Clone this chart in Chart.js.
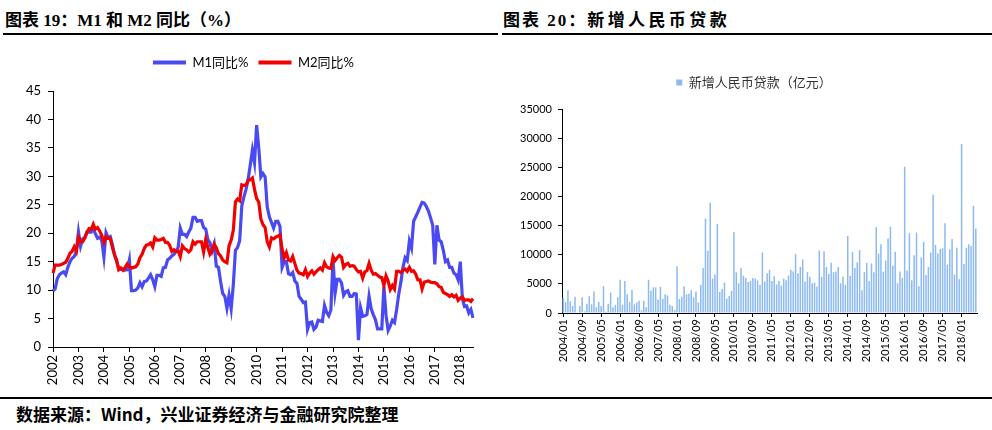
<!DOCTYPE html>
<html><head><meta charset="utf-8">
<script src="https://cdn.jsdelivr.net/npm/chart.js@4/dist/chart.umd.min.js"></script>
<style>
body{margin:0;width:992px;height:430px;background:#fff;position:relative;overflow:hidden;font-family:'Noto Sans CJK SC',sans-serif;color:#000;}
.title{position:absolute;top:6px;font-size:17px;font-weight:700;white-space:nowrap;font-family:'Liberation Serif','Noto Sans CJK SC',serif;}
.rule{position:absolute;height:2px;background:#000;}
canvas{position:absolute;top:38px;}
#c1{left:0;}
#c2{left:500px;}
.src{position:absolute;left:16px;top:401px;font-size:17px;font-weight:700;white-space:nowrap;}
</style></head>
<body>
<div class="title" style="left:5px">图表 19：M1 和 M2 同比（%）</div>
<div class="title" style="left:503px"><span style="letter-spacing:2px">图表 20：</span><span style="letter-spacing:3.4px">新增人民币贷款</span></div>
<div class="rule" style="left:3px;width:495px;top:33px"></div>
<div class="rule" style="left:502px;width:490px;top:33px"></div>
<canvas id="c1" width="496" height="356"></canvas>
<canvas id="c2" width="492" height="356"></canvas>
<div class="rule" style="left:0;width:992px;top:397px"></div>
<div class="src">数据来源：Wind，兴业证券经济与金融研究院整理</div>
<script>
// ---- Chart 1: M1 / M2 YoY (%), monthly 2002/01 - 2018/07
const m1Years = [2002,2003,2004,2005,2006,2007,2008,2009,2010,2011,2012,2013,2014,2015,2016,2017,2018];
const m1 = [
 9.9,10.2,12.0,12.7,13.0,13.2,12.7,14.0,15.0,15.6,15.9,16.8,
 20.2,17.7,19.0,19.2,20.2,20.2,20.2,20.8,19.9,19.1,19.3,18.7,
 15.8,20.1,19.2,19.4,18.0,16.2,15.0,13.7,13.7,13.6,13.5,13.6,
 15.3,9.9,9.9,10.0,10.4,11.3,10.6,11.5,11.6,12.1,12.7,11.8,
 10.6,12.6,12.6,12.4,13.9,14.0,15.3,15.6,16.0,16.3,16.8,17.5,
 20.9,19.8,19.8,19.4,20.2,20.9,22.8,22.8,22.1,22.2,22.2,21.0,
 20.7,18.9,18.3,16.9,18.1,14.2,14.0,11.5,9.4,8.9,6.8,9.1,
 6.7,10.9,17.0,17.5,18.7,24.8,26.4,27.7,29.5,32.0,34.6,32.4,
 39.0,35.0,29.9,30.5,29.9,24.6,22.9,21.9,20.9,22.1,22.1,21.2,
 14.0,15.0,15.0,12.9,12.7,13.1,11.6,11.2,8.9,8.4,7.8,7.9,
 3.1,4.3,4.4,3.1,3.5,4.7,4.6,4.5,7.3,6.1,5.5,6.5,
 15.3,9.5,11.9,11.9,11.3,9.1,9.7,9.9,8.9,8.9,9.4,9.3,
 1.2,6.9,5.4,5.5,5.7,8.9,6.7,5.7,4.8,3.2,3.2,3.2,
 10.6,5.6,2.9,3.7,4.7,4.3,6.6,9.3,11.4,14.0,15.7,15.2,
 18.6,17.4,22.1,22.9,23.7,24.6,25.4,25.3,24.7,23.9,22.7,21.4,
 14.5,21.4,18.8,18.5,17.0,15.0,15.3,14.0,14.0,13.0,12.7,11.8,
 15.0,8.5,7.1,7.2,6.0,6.6,5.1
];
const m2 = [
 13.0,14.4,14.4,14.4,14.5,14.7,14.9,15.6,16.5,16.8,17.6,16.8,
 19.3,18.5,18.5,19.2,20.2,20.8,20.7,21.6,20.7,21.0,20.4,19.6,
 18.4,19.4,19.1,19.1,17.5,16.2,15.3,13.6,13.9,13.5,14.0,14.6,
 14.1,13.9,14.0,14.1,14.6,15.7,16.3,17.3,17.9,18.0,18.3,17.6,
 19.2,18.8,18.8,18.9,19.1,18.4,18.4,17.9,16.8,17.1,16.8,16.9,
 15.9,17.8,17.3,17.1,16.7,17.1,18.5,18.1,18.5,18.5,18.5,16.7,
 18.9,17.5,16.3,16.9,18.1,17.4,16.4,16.0,15.3,15.0,14.8,17.8,
 18.8,20.5,25.5,26.0,25.7,28.5,28.4,28.5,29.3,29.4,29.7,27.7,
 26.1,25.5,22.5,21.5,21.0,18.5,17.6,19.2,19.0,19.3,19.5,19.7,
 17.2,15.7,16.6,15.3,15.1,15.9,14.7,13.5,13.0,12.9,12.7,13.6,
 12.4,13.0,13.4,12.8,13.2,13.6,13.9,13.5,14.8,14.1,13.9,13.8,
 15.9,15.2,15.7,16.1,15.8,14.0,14.5,14.7,14.2,14.3,14.2,13.6,
 13.2,13.3,12.1,13.2,13.4,14.7,13.5,12.8,12.9,12.6,12.3,12.2,
 10.8,12.5,11.6,10.1,10.8,10.2,13.3,13.3,13.1,13.5,13.7,13.3,
 14.0,13.3,13.4,12.8,11.8,11.8,10.2,11.4,11.5,11.6,11.4,11.3,
 11.3,11.1,10.6,10.5,9.6,9.4,9.2,8.9,9.2,8.8,9.1,8.2,
 8.6,8.8,8.2,8.3,8.3,8.0,8.5
];
const m1Labels = [];
m1Years.forEach(y => { for (let mo = 1; mo <= 12; mo++) m1Labels.push(y + '/' + String(mo).padStart(2,'0')); });
m1Labels.length = m1.length;

// ---- Chart 2: new RMB loans (100 million yuan), monthly 2004/01 - 2018/07
const loanYears = [2004,2005,2006,2007,2008,2009,2010,2011,2012,2013,2014,2015,2016,2017,2018];
const loans = [
 2600,1900,3900,2000,1200,2800,100,1200,2700,300,1600,2900,
 1500,3700,1000,1900,1200,4600,200,1600,3500,1000,1400,2700,
 5700,1400,5500,3200,1900,4000,1500,1800,2100,500,2100,1000,
 5700,3800,4400,4400,2300,4500,2400,3200,3000,1400,1200,500,
 8000,2400,2800,4600,3200,3300,3900,2700,3700,1800,4800,7700,
 16200,10700,18900,5900,6600,15300,3600,4100,5200,2500,2900,3800,
 13900,7000,5100,7700,6400,6000,5300,5500,6000,5900,5600,4800,
 10400,5400,6800,7400,5500,6300,4900,5500,4700,5900,5600,6400,
 7400,7100,10100,6800,7900,9200,5400,7000,6200,5100,5200,4500,
 10700,6200,10600,7900,6700,8600,7000,7100,7900,5100,6200,4800,
 13200,6400,10500,7700,8700,10800,3900,7000,8600,5500,8500,7000,
 14700,10200,11800,7100,9000,12800,14800,8100,10500,5100,7100,6000,
 25100,7300,13700,5600,9900,13800,4600,9500,12200,6500,7900,10400,
 20300,11700,10200,11000,11100,15400,8300,10900,12700,6600,11200,5800,
 29000,8400,11200,11800,11500,18400,14500
];
const loanLabels = [];
loanYears.forEach(y => { for (let mo = 1; mo <= 12; mo++) loanLabels.push(y + '/' + String(mo).padStart(2,'0')); });
loanLabels.length = loans.length;

const FAM = "Lato, 'Noto Sans CJK SC', sans-serif";
Chart.defaults.font.family = FAM;
Chart.defaults.color = '#000';

const legendGen = (chart) => {
  const items = Chart.defaults.plugins.legend.labels.generateLabels(chart);
  items.forEach(it => { it.lineWidth = 0; it.fillStyle = it.strokeStyle; });
  return items;
};
// shifts the legend horizontally and adds space below it
const legendTweak = (dx, extraH) => ({
  id: 'legendTweak',
  afterInit(chart) {
    const lg = chart.legend;
    const fit = lg.fit.bind(lg);
    lg.fit = function () { fit(); this.height += extraH; };
  },
  afterLayout(chart) { chart.legend.left += dx; chart.legend.right += dx; }
});

new Chart(document.getElementById('c1'), {
  type: 'line',
  data: {
    labels: m1Labels,
    datasets: [
      {label:'M1同比%', data:m1, borderColor:'#4a4af2', backgroundColor:'#4a4af2', borderWidth:3.2, pointRadius:0, tension:0, order:1},
      {label:'M2同比%', data:m2, borderColor:'#f20000', backgroundColor:'#f20000', borderWidth:3.2, pointRadius:0, tension:0, order:0}
    ]
  },
  options: {
    responsive:false, animation:false,
    layout:{padding:{left:0,right:23,top:8,bottom:0}},
    plugins:{
      tooltip:{enabled:false},
      legend:{labels:{boxWidth:33,boxHeight:4,padding:10,font:{size:13},color:'#000',
        generateLabels:legendGen, sort:(a,b)=>a.datasetIndex-b.datasetIndex}}
    },
    scales:{
      x:{type:'category', offset:false,
        grid:{display:true, drawOnChartArea:false, tickLength:5, color:'#000'},
        border:{color:'#000', width:1},
        ticks:{autoSkip:false, minRotation:90, maxRotation:90, padding:3, font:{size:13}, color:'#000',
          callback:(v,i)=> m1Labels[i].endsWith('/01') ? m1Labels[i].slice(0,4) : null},
        afterFit:(s)=>{ s.height = 47; }},
      y:{min:0, max:45,
        grid:{display:true, drawOnChartArea:false, tickLength:5, color:'#000'},
        border:{color:'#000', width:1},
        ticks:{stepSize:5, padding:7, font:{size:13}, color:'#000'},
        afterFit:(s)=>{ s.width = 53; }}
    }
  },
  plugins:[legendTweak(17, 12)]
});

new Chart(document.getElementById('c2'), {
  type: 'bar',
  data: {
    labels: loanLabels,
    datasets: [
      {label:'新增人民币贷款（亿元）', data:loans, backgroundColor:'#8dbaf0', borderWidth:0, barPercentage:0.75, categoryPercentage:0.85}
    ]
  },
  options: {
    responsive:false, animation:false,
    layout:{padding:{left:0,right:15,top:28,bottom:0}},
    plugins:{
      tooltip:{enabled:false},
      legend:{labels:{boxWidth:6,boxHeight:6,padding:10,font:{size:13},color:'#333'}}
    },
    scales:{
      x:{type:'category', offset:true,
        grid:{display:true, drawOnChartArea:false, tickLength:4, color:'#000', offset:false},
        border:{color:'#000', width:1},
        ticks:{autoSkip:false, minRotation:90, maxRotation:90, padding:2, font:{size:11}, color:'#000',
          callback:(v,i)=> (i % 8 === 0) ? loanLabels[i] : null},
        afterFit:(s)=>{ s.height = 81; }},
      y:{min:0, max:35000,
        grid:{display:true, drawOnChartArea:false, tickLength:4, color:'#000'},
        border:{color:'#000', width:1},
        ticks:{stepSize:5000, padding:6, font:{size:11}, color:'#000', callback:(v)=> String(v)},
        afterFit:(s)=>{ s.width = 62; }}
    }
  },
  plugins:[legendTweak(15.5, 10)]
});
</script>
</body></html>
